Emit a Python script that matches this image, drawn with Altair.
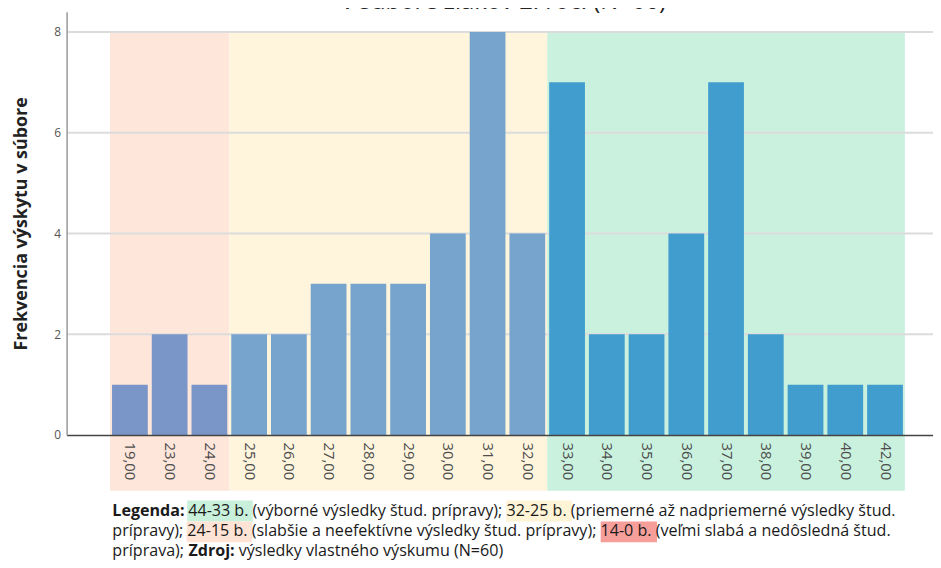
import altair as alt
import pandas as pd

# ---------------- data ----------------
categories = ["19,00", "23,00", "24,00", "25,00", "26,00", "27,00", "28,00", "29,00",
              "30,00", "31,00", "32,00", "33,00", "34,00", "35,00", "36,00", "37,00",
              "38,00", "39,00", "40,00", "42,00"]
scores = [19, 23, 24, 25, 26, 27, 28, 29, 30, 31, 32, 33, 34, 35, 36, 37, 38, 39, 40, 42]
counts = [1, 2, 1, 2, 2, 3, 3, 3, 4, 8, 4, 7, 2, 2, 4, 7, 2, 1, 1, 1]

band_names = ["15-24", "25-32", "33-44"]
band_min = [15, 25, 33]
band_max = [24, 32, 44]
band_fill = ["#FEE6DA", "#FFF5DD", "#CAF1DE"]
bar_fill = ["#7A96C8", "#77A4CC", "#429DCF"]

y_ticks = [0, 2, 4, 6, 8]
y_label = "Frekvencia výskytu v súbore"
title_text = "v súbore žiakov 2. roč. (N=60)"

legend_lines = [
    [("Legenda:", "bold", None), ("44-33 b.", "normal", "#C8F0DA"),
     ("(výborné výsledky štud. prípravy);", "normal", None), ("32-25 b.", "normal", "#FFF4D6"),
     ("(priemerné až nadpriemerné výsledky štud.", "normal", None)],
    [("prípravy);", "normal", None), ("24-15 b.", "normal", "#FFE3D5"),
     ("(slabšie a neefektívne výsledky štud. prípravy);", "normal", None),
     ("14-0 b.", "normal", "#F59E9A"), ("(veľmi slabá a nedôsledná štud.", "normal", None)],
    [("príprava);", "normal", None), ("Zdroj:", "bold", None),
     ("výsledky vlastného výskumu (N=60)", "normal", None)],
]

# ---------------- layout ----------------
W, H = 872, 426
FONT = "Open Sans"
LEG_SIZE = 16.2
LEG_X0 = 46
LEG_BASE = [507, 528, 548]

def group_of(s):
    for n, lo, hi in zip(band_names, band_min, band_max):
        if lo <= s <= hi:
            return n
    return band_names[0]

bars = pd.DataFrame({"idx": list(range(len(categories))), "cat": categories,
                     "score": scores, "count": counts})
bars["group"] = [group_of(s) for s in scores]

brows = []
for n in band_names:
    ii = bars.index[bars["group"] == n]
    brows.append({"group": n, "x0": ii.min() - 0.5, "x1": ii.max() + 0.5, "top": max(y_ticks)})
bands = pd.DataFrame(brows)
grid = pd.DataFrame({"v": y_ticks[1:]})

REG = {' ': .26, '(': .296, ')': .296, ',': .245, '-': .322, '.': .266, ':': .266, ';': .266,
       '=': .572, 'N': .76, 'a': .556, 'á': .556, 'b': .613, 'c': .476, 'č': .476, 'd': .613,
       'e': .561, 'é': .561, 'f': .339, 'g': .548, 'h': .614, 'i': .253, 'í': .253, 'k': .525,
       'l': .253, 'ľ': .32, 'm': .93, 'n': .614, 'o': .604, 'ô': .604, 'p': .613, 'r': .408,
       's': .477, 'š': .477, 't': .353, 'u': .614, 'ú': .614, 'v': .501, 'y': .502, 'ý': .502,
       'z': .477, 'ž': .477, 'Z': .56, 'L': .52}
BOLD = {'L': .556, 'e': .576, 'g': .563, 'n': .654, 'd': .641, 'a': .606, ':': .285,
        'Z': .582, 'r': .444, 'o': .618, 'j': .29, ' ': .26}

def tw(t, w):
    tab = BOLD if w == "bold" else REG
    return sum(tab.get(c, REG.get(c, .572 if c.isdigit() else .55)) for c in t) * LEG_SIZE

runs, hls = [], []
for li, segs in enumerate(legend_lines):
    x = LEG_X0
    cur = None
    for text, w, hl in segs:
        if hl:
            hls.append({"x0": x - 1, "x1": x + tw(text + " ", "normal"),
                        "y0": LEG_BASE[li] - 15, "y1": LEG_BASE[li] + 6, "c": hl})
        if cur and cur["w"] == w:
            cur["t"] += " " + text
        else:
            cur = {"x": x, "y": LEG_BASE[li], "t": text, "w": w}
            runs.append(cur)
        x += tw(text, w) + tw(" ", "normal")
runs = pd.DataFrame(runs)
hls = pd.DataFrame(hls)

x_dom = [-1.5925, -1.5925 + W / 40]
x_scale = alt.Scale(domain=x_dom, nice=False, zero=False, padding=0)
y_scale = alt.Scale(domain=[0, 8.4], nice=False, zero=True, padding=0)
label_expr = "[" + ",".join("'%s'" % c for c in categories) + "][datum.value]"

band_layer = alt.Chart(bands).mark_rect().encode(
    x=alt.X("x0:Q", scale=x_scale, axis=None), x2="x1:Q",
    y=alt.Y("top:Q", scale=y_scale, axis=None), y2=alt.value(482),
    color=alt.Color("group:N", scale=alt.Scale(domain=band_names, range=band_fill), legend=None),
)

grid_layer = alt.Chart(grid).mark_rule(color="#DCDCDC", strokeWidth=2).encode(
    y=alt.Y("v:Q", scale=y_scale, axis=None), x=alt.value(0), x2=alt.value(W + 2),
)

bar_layer = alt.Chart(bars).mark_bar(size=36).encode(
    x=alt.X("idx:Q", scale=x_scale, axis=alt.Axis(
        values=list(range(len(categories))), labelExpr=label_expr, labelAngle=90,
        labelAlign="left", labelBaseline="middle", labelFontSize=15, labelFont=FONT,
        labelColor="#4D4D4D", labelPadding=7, ticks=False, grid=False, domainColor="#444444",
        domainWidth=1.5, title=None, labelFlush=False, labelOverlap=False, zindex=1)),
    y=alt.Y("count:Q", scale=y_scale, axis=alt.Axis(
        values=y_ticks, grid=False, ticks=False, domainColor="#999999", domainWidth=1.5,
        labelFontSize=12, labelFont=FONT, labelColor="#555555", labelPadding=6,
        title=y_label, titleFont=FONT, titleFontSize=18, titleFontWeight="bold",
        titleColor="#222222", titlePadding=24, zindex=1)),
    color=alt.Color("group:N", scale=alt.Scale(domain=band_names, range=bar_fill), legend=None),
)

hl_layer = alt.Chart(hls).mark_rect().encode(
    x=alt.X("x0:Q", scale=None, axis=None), x2="x1:Q",
    y=alt.Y("y0:Q", scale=None, axis=None), y2="y1:Q",
    color=alt.Color("c:N", scale=None, legend=None),
)

txt_reg = alt.Chart(runs).transform_filter("datum.w == 'normal'").mark_text(
    align="left", baseline="alphabetic", font=FONT, fontSize=LEG_SIZE, color="#1A1A1A"
).encode(x=alt.X("x:Q", scale=None, axis=None), y=alt.Y("y:Q", scale=None, axis=None), text="t:N")

txt_bold = alt.Chart(runs).transform_filter("datum.w == 'bold'").mark_text(
    align="left", baseline="alphabetic", font=FONT, fontSize=LEG_SIZE, fontWeight="bold",
    color="#1A1A1A"
).encode(x=alt.X("x:Q", scale=None, axis=None), y=alt.Y("y:Q", scale=None, axis=None), text="t:N")

title_layer = alt.Chart(pd.DataFrame({"t": [title_text]})).mark_text(
    align="center", baseline="alphabetic", font=FONT, fontSize=24, color="#222222"
).encode(text="t:N", x=alt.value(440), y=alt.value(-3))

chart = alt.layer(
    band_layer, grid_layer, bar_layer, hl_layer, txt_reg, txt_bold, title_layer
).resolve_scale(
    x="independent", y="independent", color="independent"
).properties(
    width=W, height=H,
    autosize=alt.AutoSizeParams(type="none"),
    padding={"left": 59, "top": 2, "right": 0, "bottom": 125},
).configure_view(stroke=None)

chart.save("out.html", embed_options={"renderer": "svg", "actions": False})
